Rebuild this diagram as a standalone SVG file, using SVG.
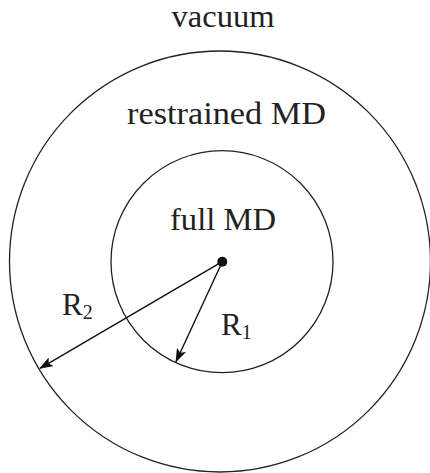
<svg xmlns="http://www.w3.org/2000/svg" width="430" height="473" viewBox="0 0 430 473">
<style>
.c{fill:none;stroke:#222;stroke-width:1.3}
.t{font-family:"Liberation Serif","Times New Roman",serif;fill:#222;font-size:31px}
.s{font-family:"Liberation Serif","Times New Roman",serif;fill:#222;font-size:20px}
.a{stroke:#111;stroke-width:1.4;fill:none}
</style>
<defs>
<marker id="ah" viewBox="0 0 14 10" refX="13" refY="5" markerWidth="14" markerHeight="10" markerUnits="userSpaceOnUse" orient="auto">
<path d="M0,0 L14,5 L0,10 L3,5 Z" fill="#111"/>
</marker>
</defs>
<rect width="430" height="473" fill="#fff"/>
<g id="vacuum"><text class="t" x="223" y="27" text-anchor="middle" textLength="103" lengthAdjust="spacingAndGlyphs">vacuum</text></g>
<g id="outer"><circle class="c" cx="220" cy="261.5" r="210.5"/><text class="t" x="226.5" y="124" text-anchor="middle" textLength="199" lengthAdjust="spacingAndGlyphs">restrained MD</text></g>
<g id="inner"><circle class="c" cx="222" cy="261.7" r="111"/><text class="t" x="223" y="230" text-anchor="middle" textLength="106" lengthAdjust="spacingAndGlyphs">full MD</text></g>
<g id="center"><circle cx="222.3" cy="261.7" r="5" fill="#111"/></g>
<g id="connectors">
<line class="a" x1="222.3" y1="261.7" x2="176" y2="361.7" marker-end="url(#ah)"/>
<line class="a" x1="222.3" y1="261.7" x2="40" y2="368.3" marker-end="url(#ah)"/>
</g>
<g id="labelR2"><text class="t" x="62" y="315" font-size="32">R<tspan class="s" dy="4" font-size="21">2</tspan></text></g>
<g id="labelR1"><text class="t" x="221" y="335" font-size="32">R<tspan class="s" dy="4" font-size="21">1</tspan></text></g>
</svg>
